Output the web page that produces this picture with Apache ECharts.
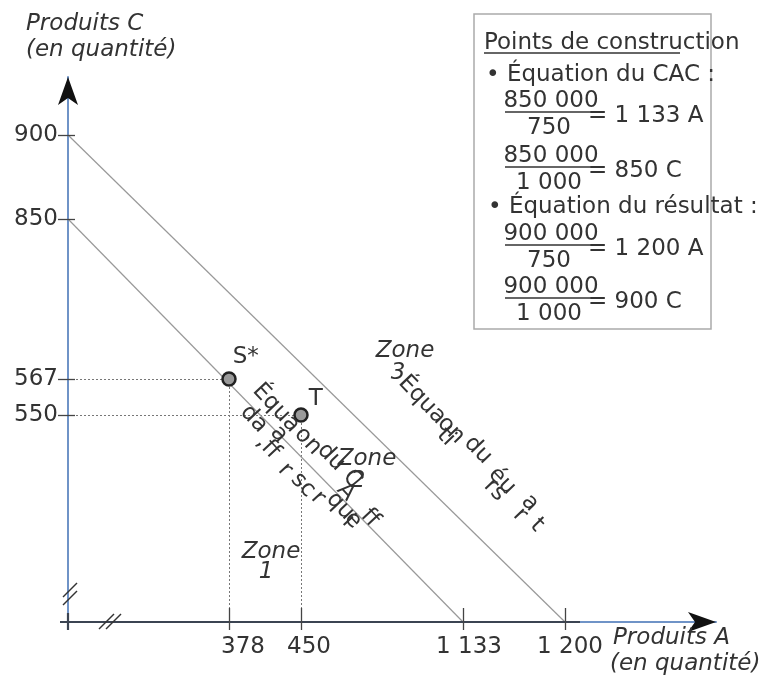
<!DOCTYPE html>
<html><head><meta charset="utf-8">
<script src="https://cdn.jsdelivr.net/npm/echarts@6/dist/echarts.min.js"></script>
<style>html,body{margin:0;padding:0;background:#fff}#c{width:767px;height:678px}</style>
</head><body><div id="c"></div>
<script>
// ---- data ----
const xTicks = [378, 450, 1133, 1200];
const xTickLabels = ['378', '450', '1 133', '1 200'];
const yTicks = [550, 567, 850, 900];
const yTickLabels = ['550', '567', '850', '900'];
const resultatLine = [[0, 900], [1200, 0]];
const cacLine = [[0, 850], [1133, 0]];
const pointNames = ['S*', 'T'];
const pointA = [378, 450];
const pointC = [567, 550];

// schematic (non-proportional) axis scale of the diagram: real value -> axis unit
const xScaleReal = [0, 378, 450, 1133, 1200];
const xScaleAxis = [0, 161, 233, 395, 497];
const yScaleReal = [0, 550, 567, 850, 900];
const yScaleAxis = [0, 207, 243, 403, 487];

function interp(v, R, A) {
  for (let i = 1; i < R.length; i++) {
    if (v <= R[i] || i === R.length - 1) {
      const t = (v - R[i - 1]) / (R[i] - R[i - 1]);
      return A[i - 1] + t * (A[i] - A[i - 1]);
    }
  }
}
const X = v => interp(v, xScaleReal, xScaleAxis);
const Y = v => interp(v, yScaleReal, yScaleAxis);

const FONT = '"DejaVu Sans", sans-serif';
const FS = 23;
const TXT = '#333';
const BLUE = '#6f93c7';
const DARK = '#3b4452';

const chart = echarts.init(document.getElementById('c'), null, {renderer: 'canvas'});

const xMax = 648, yMax = 545;
function idxFor(val, ticks, f) {
  return ticks.findIndex(t => Math.abs(f(t) - val) < 0.01);
}
// label nudges to the right of the tick (style)
const xLabelNudge = [14, 8, 6, 5];
const xRich = {};
xLabelNudge.forEach((n, i) => {
  xRich['l' + i] = {fontFamily: FONT, fontSize: FS, color: TXT, padding: [0, 0, 0, 2 * n]};
});

// guides
const guides = [];
pointA.forEach((a, i) => {
  const c = pointC[i];
  guides.push({coords: [[0, Y(c)], [X(a), Y(c)]]});
  guides.push({coords: [[X(a), Y(c)], [X(a), 0]]});
});
// tick marks
const ticksSeg = [];
xTicks.forEach(t => ticksSeg.push({coords: [[X(t), 14], [X(t), -8]]}));
yTicks.forEach(t => ticksSeg.push({coords: [[-10, Y(t)], [7, Y(t)]]}));
const darkSeg = [
  {coords: [[-8, 0], [X(1200) + 15, 0]]},
  {coords: [[0, 9], [0, -8]]}
];
const breaks = [
  {coords: [[-5, 25], [9, 39]]}, {coords: [[-5, 17], [9, 31]]},
  {coords: [[31, -7], [46, 8]]}, {coords: [[38, -7], [53, 8]]}
];

const option = {
  animation: false,
  grid: {left: 68, top: 77, right: 767 - 68 - xMax, bottom: 56},
  xAxis: {
    type: 'value', min: 0, max: xMax,
    splitLine: {show: false},
    axisLine: {show: true, onZero: false, lineStyle: {color: BLUE, width: 2}},
    axisTick: {show: false},
    axisLabel: {
      customValues: xTicks.map(X), margin: 14,
      fontFamily: FONT, fontSize: FS, color: TXT,
      rich: xRich,
      formatter: v => {
        const i = idxFor(v, xTicks, X);
        return i >= 0 ? '{l' + i + '|' + xTickLabels[i] + '}' : '';
      }
    }
  },
  yAxis: {
    type: 'value', min: 0, max: yMax,
    splitLine: {show: false},
    axisLine: {show: true, onZero: false, lineStyle: {color: BLUE, width: 2}},
    axisTick: {show: false},
    axisLabel: {
      customValues: yTicks.map(Y), margin: 10,
      fontFamily: FONT, fontSize: FS, color: TXT,
      formatter: v => {
        const i = idxFor(v, yTicks, Y);
        return i >= 0 ? yTickLabels[i] : '';
      }
    }
  },
  series: [
    {type: 'line', data: resultatLine.map(p => [X(p[0]), Y(p[1])]), symbol: 'none',
     lineStyle: {color: '#999', width: 1.2}, silent: true, z: 3},
    {type: 'line', data: cacLine.map(p => [X(p[0]), Y(p[1])]), symbol: 'none',
     lineStyle: {color: '#999', width: 1.2}, silent: true, z: 3},
    {type: 'lines', coordinateSystem: 'cartesian2d', data: guides, clip: false,
     lineStyle: {color: '#777', width: 1, type: [2, 2], opacity: 1}, silent: true, z: 2},
    {type: 'lines', coordinateSystem: 'cartesian2d', data: darkSeg, clip: false,
     lineStyle: {color: DARK, width: 2.2, opacity: 1}, silent: true, z: 4},
    {type: 'lines', coordinateSystem: 'cartesian2d', data: ticksSeg, clip: false,
     lineStyle: {color: '#444', width: 1.3, opacity: 1}, silent: true, z: 5},
    {type: 'lines', coordinateSystem: 'cartesian2d', data: breaks, clip: false,
     lineStyle: {color: '#333', width: 1.4, opacity: 1}, silent: true, z: 5},
    {type: 'scatter', clip: false, silent: true, z: 6,
     data: [
       {value: [0, yMax], symbolRotate: 0},
       {value: [xMax, 0], symbolRotate: -90}
     ],
     symbol: 'arrow', symbolSize: [15, 28], itemStyle: {color: '#111', opacity: 1}},
    {type: 'scatter', clip: false, silent: true, z: 7,
     data: pointA.map((a, i) => ({
       value: [X(a), Y(pointC[i])], name: pointNames[i],
       label: {offset: i === 0 ? [-9, -22] : [-5, -16]}
     })),
     symbolSize: 13,
     itemStyle: {color: '#9a9a9a', borderColor: '#222', borderWidth: 2.5, opacity: 1},
     label: {show: true, position: 'right', formatter: p => p.name,
             fontFamily: FONT, fontSize: FS, color: TXT}}
  ]
};
chart.setOption(option);

// ---- annotations & construction box ----
const deg = Math.PI / 180;
function t(text, x, y, opts) {
  opts = opts || {};
  return {
    type: 'text', x: x, y: y, rotation: opts.rot || 0, z: 20,
    style: {
      text: text, fill: TXT,
      font: (opts.italic ? 'italic ' : '') + (opts.size || FS) + 'px ' + FONT,
      textAlign: opts.align || 'left', textVerticalAlign: 'middle'
    }
  };
}
function ln(x1, y1, x2, y2, w, c) {
  return {type: 'line', z: 20, shape: {x1, y1, x2, y2}, style: {stroke: c || TXT, lineWidth: w || 1.5}};
}
const g = [];
// axis titles
g.push(t('Produits C', 26, 24, {italic: true}));
g.push(t('(en quantité)', 26, 50, {italic: true}));
g.push(t('Produits A', 613, 638, {italic: true}));
g.push(t('(en quantité)', 610, 664, {italic: true}));
// zones
g.push(t('Zone', 405, 351, {italic: true, align: 'center'}));
g.push(t('3', 398, 373, {italic: true, align: 'center'}));
g.push(t('Zone', 367, 459, {italic: true, align: 'center'}));
g.push(t('2', 358, 481, {italic: true, align: 'center'}));
g.push(t('Zone', 271, 552, {italic: true, align: 'center'}));
g.push(t('1', 266, 572, {italic: true, align: 'center'}));

// line captions, as they appear in the source picture (glyph runs scattered along the lines)
const cacCaption = [
  ['Équa', 276, 408], ['a', 279, 434], ['on', 308, 441], ['du', 331, 457],
  ['C', 352, 479], ['A', 346, 492], ['qu', 340, 506], ['e', 353, 520], ['ff', 370, 518],
  ['da', 254, 419], [',ff', 268, 447], ['r', 285, 470], ['sc', 303, 485],
  ['r', 318, 498], ['i', 348, 521]
];
const resCaption = [
  ['Équa', 422, 400], ['on', 451, 430], ['du', 478, 450], ['éu', 502, 481],
  ['a', 530, 503], ['t', 537, 525],
  ['ti', 446, 437], ['rs', 495, 490], ['r', 520, 515]
];
cacCaption.forEach(c => g.push(t(c[0], c[1], c[2], {rot: -47 * deg, align: 'center'})));
resCaption.forEach(c => g.push(t(c[0], c[1], c[2], {rot: -46 * deg, align: 'center'})));

// construction box
g.push({type: 'rect', z: 15, shape: {x: 474, y: 14, width: 237, height: 315},
        style: {fill: '#fff', stroke: '#aaa', lineWidth: 1.5}});
g.push(t('Points de construction', 484, 43));
g.push(ln(484, 53, 680, 53, 1.3));
g.push(t('• Équation du CAC :', 486, 75));
function frac(num, den, res, yNum) {
  g.push(t(num, 551, yNum, {align: 'center'}));
  g.push(ln(505, yNum + 11, 598, yNum + 11, 1.5));
  g.push(t(den, 549, yNum + 27, {align: 'center'}));
  g.push(t(res, 588, yNum + 15));
}
frac('850 000', '750', '= 1 133 A', 101);
frac('850 000', '1 000', '= 850 C', 156);
g.push(t('• Équation du résultat :', 488, 207));
frac('900 000', '750', '= 1 200 A', 234);
frac('900 000', '1 000', '= 900 C', 287);

chart.setOption({graphic: {elements: g}});
</script>
</body></html>
